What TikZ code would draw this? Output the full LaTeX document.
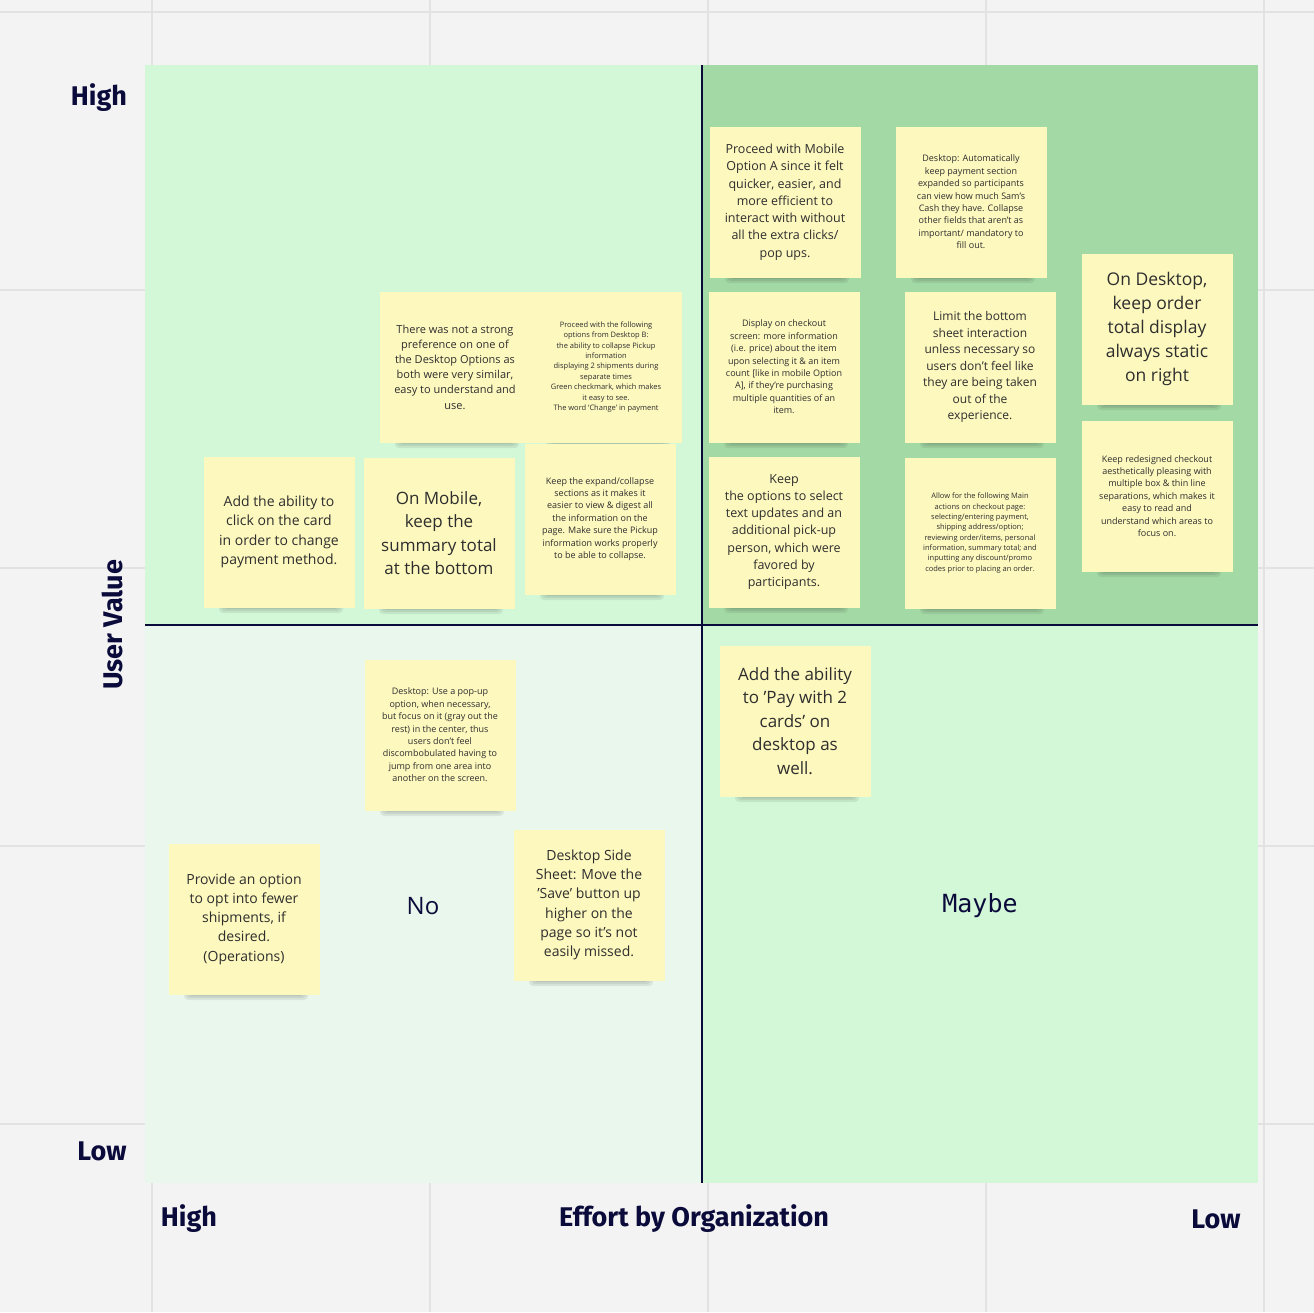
\documentclass[tikz,border=0pt]{standalone}
\usepackage{fontspec}
\setmainfont{Open Sans}
\newfontfamily\labelfont{Fira Sans}
\newfontfamily\monofont{DejaVu Sans Mono}
\definecolor{canvas}{HTML}{F3F3F3}
\definecolor{gridline}{HTML}{E2E2E2}
\definecolor{quadA}{HTML}{D3F8D8}
\definecolor{quadB}{HTML}{A3D9A5}
\definecolor{quadC}{HTML}{EAF7EC}
\definecolor{paper}{HTML}{FDF8BE}
\definecolor{ink}{HTML}{0B0B3B}
\definecolor{notetext}{HTML}{2E2E2E}
\tikzset{
  note/.style={fill=paper, minimum width=151pt, minimum height=151pt, inner sep=0pt,
    align=center, text=notetext, anchor=center},
  shadow/.style={fill=black, opacity=0.07},
  axislabel/.style={text=ink, font=\labelfont\bfseries\fontsize{27}{32}\selectfont}
}
% sticky: name, centre, font size, text
\newcommand{\sticky}[4]{%
  \foreach \s in {0,2,4} \fill[shadow, rounded corners=4pt] ($(#2)+(-60+\s,60)$) rectangle ($(#2)+(64-\s,81-\s)$);
  \node[note, font=\fontsize{#3}{1.38\dimexpr #3pt\relax}\selectfont] (#1) at (#2) {#4};}
\usetikzlibrary{calc}
\begin{document}
\begin{tikzpicture}[x=1pt,y=-1pt]
\useasboundingbox (0,0) rectangle (1314,1312);
\fill[canvas] (0,0) rectangle (1314,1312);
%Grid:
\foreach \x in {152,430,708,986,1264} \draw[gridline, line width=1.5pt] (\x,0) -- (\x,1312);
\foreach \y in {12,290,568,846,1124} \draw[gridline, line width=1.5pt] (0,\y) -- (1314,\y);
%Quadrants:
\fill[quadA] (145,65) rectangle (702,625);
\fill[quadB] (702,65) rectangle (1258,625);
\fill[quadC] (145,625) rectangle (702,1183);
\fill[quadA] (702,625) rectangle (1258,1183);
\coordinate (top) at (702,65); \coordinate (bottom) at (702,1183);
\coordinate (left) at (145,625); \coordinate (right) at (1258,625);
\draw[ink, line width=2pt] (top) -- (bottom);
\draw[ink, line width=2pt] (left) -- (right);
%Axis labels:
\node[axislabel] (vhigh) at (99,98) {High};
\node[axislabel] (vlow) at (102,1151) {Low};
\node[axislabel, rotate=90] (value) at (112,625) {User Value};
\node[axislabel] (ehigh) at (189,1219) {High};
\node[axislabel] (effort) at (694,1219) {Effort by Organization};
\node[axislabel] (elow) at (1216,1219) {Low};
\node[text=ink, font=\fontsize{24}{28}\selectfont] (no) at (423,906) {No};
\node[text=ink, font=\monofont\fontsize{25}{30}\selectfont] (maybe) at (980,906) {Maybe};
%Notes:
\sticky{mobilea}{785,202}{12.5}{Proceed with Mobile\\Option A since it felt\\quicker, easier, and\\more efficient to\\interact with without\\all the extra clicks/\\pop ups.}
\sticky{expanded}{971,202}{9}{Desktop: Automatically\\keep payment section\\expanded so participants\\can view how much Sam's\\Cash they have. Collapse\\other fields that aren't as\\important/ mandatory to\\fill out.}
\sticky{static}{1157,329}{17.5}{On Desktop,\\keep order\\total display\\always static\\on right}
\sticky{strong}{455,367}{11}{There was not a strong\\preference on one of\\the Desktop Options as\\both were very similar,\\easy to understand and\\use.}
\sticky{deskb}{606,367}{7.5}{Proceed with the following\\options from Desktop B:\\the ability to collapse Pickup\\information\\displaying 2 shipments during\\separate times\\Green checkmark, which makes\\it easy to see.\\The word `Change' in payment}
\sticky{display}{784,367}{9}{Display on checkout\\screen: more information\\(i.e. price) about the item\\upon selecting it \& an item\\count [like in mobile Option\\A], if they're purchasing\\multiple quantities of an\\item.}
\sticky{limit}{980,367}{12}{Limit the bottom\\sheet interaction\\unless necessary so\\users don't feel like\\they are being taken\\out of the\\experience.}
\sticky{redesign}{1157,496}{9}{Keep redesigned checkout\\aesthetically pleasing with\\multiple box \& thin line\\separations, which makes it\\easy to read and\\understand which areas to\\focus on.}
\sticky{card}{279,532}{14}{Add the ability to\\click on the card\\in order to change\\payment method.}
\sticky{summary}{439,533}{17}{On Mobile,\\keep the\\summary total\\at the bottom}
\sticky{collapse}{600,519}{9}{Keep the expand/collapse\\sections as it makes it\\easier to view \& digest all\\the information on the\\page. Make sure the Pickup\\information works properly\\to be able to collapse.}
\sticky{options}{784,532}{12.5}{Keep\\the options to select\\text updates and an\\additional pick-up\\person, which were\\favored by\\participants.}
\sticky{actions}{980,533}{7.5}{Allow for the following Main\\actions on checkout page:\\selecting/entering payment,\\shipping address/option;\\reviewing order/items, personal\\information, summary total; and\\inputting any discount/promo\\codes prior to placing an order.}
\sticky{popup}{440,735}{9}{Desktop: Use a pop-up\\option, when necessary,\\but focus on it (gray out the\\rest) in the center, thus\\users don't feel\\discombobulated having to\\jump from one area into\\another on the screen.}
\sticky{twocards}{795,721}{17}{Add the ability\\to 'Pay with 2\\cards' on\\desktop as\\well.}
\sticky{fewer}{244,919}{14}{Provide an option\\to opt into fewer\\shipments, if\\desired.\\(Operations)}
\sticky{sidesheet}{589,905}{14}{Desktop Side\\Sheet: Move the\\'Save' button up\\higher on the\\page so it's not\\easily missed.}
\end{tikzpicture}
\end{document}
